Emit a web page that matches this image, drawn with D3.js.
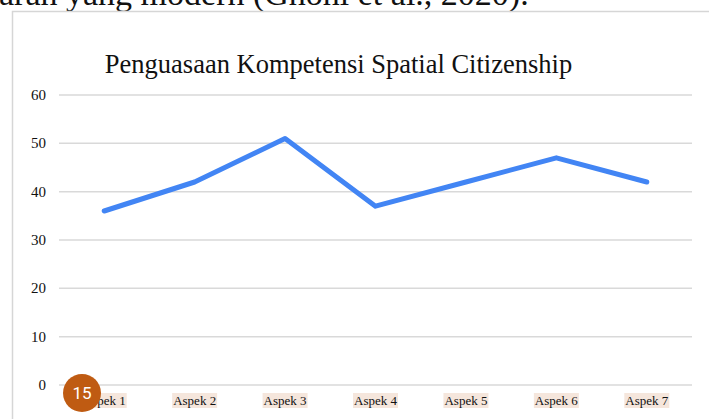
<!DOCTYPE html>
<html lang="id">
<head>
    <meta charset="UTF-8">
    <title>Penguasaan Kompetensi Spatial Citizenship</title>
    <script src="https://d3js.org/d3.v7.min.js"></script>
    <style>
        body { margin: 0; background: #fff; }
        svg { display: block; }
        .serif { font-family: "Liberation Serif", "Times New Roman", serif; fill: #111; }
        .grid line { stroke: #d9d9d9; stroke-width: 1.5px; }
        .series { fill: none; stroke: #4285f4; stroke-width: 5px; stroke-linecap: round; stroke-linejoin: round; }
    </style>
</head>
<body>
<svg id="chart" width="709" height="419"></svg>
<script>
    const categories = ["Aspek 1", "Aspek 2", "Aspek 3", "Aspek 4", "Aspek 5", "Aspek 6", "Aspek 7"];
    const values = [36, 42, 51, 37, 42, 47, 42];
    const yTicks = [0, 10, 20, 30, 40, 50, 60];
    const title = "Penguasaan Kompetensi Spatial Citizenship";

    const svg = d3.select("#chart");

    // cut-off sentence of the page above the chart
    svg.append("text")
        .attr("class", "serif")
        .attr("x", -1)
        .attr("y", 5)
        .attr("font-size", 34)
        .text("aran yang modern (Ghoni et al., 2020).");

    // frame of the chart box
    svg.append("path")
        .attr("d", "M12.5,419 V11.5 H709")
        .attr("fill", "none")
        .attr("stroke", "#d6d6d6")
        .attr("stroke-width", 1.5);

    const x = d3.scaleBand().domain(categories).range([59, 692]);
    const y = d3.scaleLinear().domain([0, 60]).range([385, 95]);

    // gridlines
    svg.append("g").attr("class", "grid")
        .selectAll("line").data(yTicks).enter().append("line")
        .attr("x1", 59).attr("x2", 692)
        .attr("y1", d => y(d)).attr("y2", d => y(d));

    // y labels
    svg.append("g").selectAll("text").data(yTicks).enter().append("text")
        .attr("class", "serif")
        .attr("x", 46)
        .attr("y", d => y(d) + 5)
        .attr("text-anchor", "end")
        .attr("font-size", 15)
        .text(d => d);

    // x labels with highlight
    const xl = svg.append("g").selectAll("g").data(categories).enter().append("g")
        .attr("transform", d => `translate(${x(d) + x.bandwidth() / 2},0)`);
    xl.append("rect")
        .attr("x", -22.5).attr("y", 393).attr("width", 45).attr("height", 15)
        .attr("fill", "#f5e6dc");
    xl.append("text")
        .attr("class", "serif")
        .attr("text-anchor", "middle")
        .attr("y", 405)
        .attr("font-size", 13)
        .text(d => d);

    // line
    const line = d3.line()
        .x((d, i) => x(categories[i]) + x.bandwidth() / 2)
        .y(d => y(d));
    svg.append("path").attr("class", "series").attr("d", line(values));

    // title
    svg.append("text")
        .attr("class", "serif")
        .attr("x", 338.5)
        .attr("y", 73)
        .attr("text-anchor", "middle")
        .attr("font-size", 26.5)
        .text(title);

    // page number badge
    svg.append("circle").attr("cx", 82).attr("cy", 393).attr("r", 19).attr("fill", "#bf5b12");
    svg.append("text")
        .attr("x", 82).attr("y", 399)
        .attr("text-anchor", "middle")
        .attr("font-family", "Roboto, sans-serif")
        .attr("font-size", 17)
        .attr("fill", "#fff")
        .text("15");
</script>
</body>
</html>
